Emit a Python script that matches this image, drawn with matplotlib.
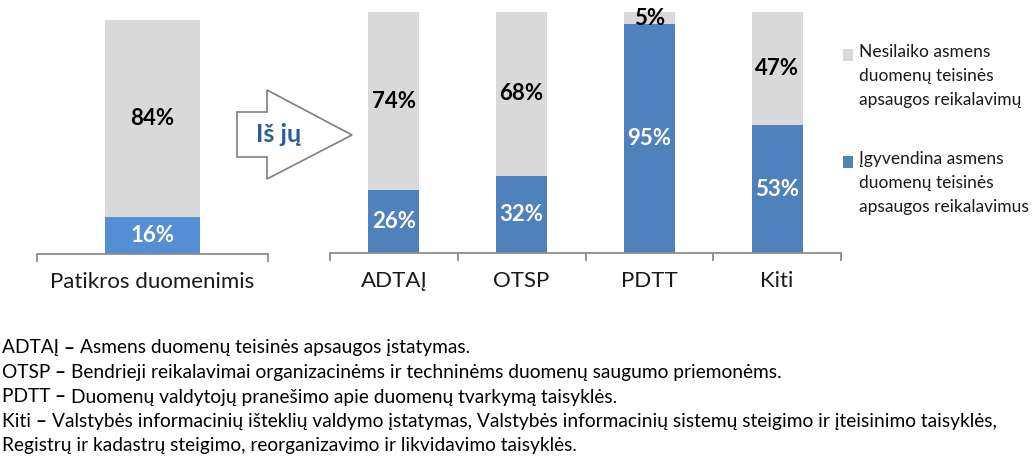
import matplotlib.pyplot as plt
from matplotlib.patches import Polygon, Rectangle

plt.rcParams['font.family'] = ['Lato', 'DejaVu Sans']

# data
total_cat = ['Patikros duomenimis']
total_ok = [16]
total_bad = [84]

cats = ['ADTAĮ', 'OTSP', 'PDTT', 'Kiti']
ok = [26, 32, 95, 53]
bad = [74, 68, 5, 47]

legend_bad = 'Nesilaiko asmens\nduomenų teisinės\napsaugos reikalavimų'
legend_ok = 'Įgyvendina asmens\nduomenų teisinės\napsaugos reikalavimus'

note_keys = ['ADTAĮ', 'OTSP', 'PDTT', 'Kiti', '']
note_texts = [
    'Asmens duomenų teisinės apsaugos įstatymas.',
    'Bendrieji reikalavimai organizacinėms ir techninėms duomenų saugumo priemonėms.',
    'Duomenų valdytojų pranešimo apie duomenų tvarkymą taisyklės.',
    'Valstybės informacinių išteklių valdymo įstatymas, Valstybės informacinių sistemų steigimo ir įteisinimo taisyklės,',
    'Registrų ir kadastrų steigimo, reorganizavimo ir likvidavimo taisyklės.',
]

GRAY = '#D9D9D9'
BLUE_L = '#558ED5'
BLUE = '#4F81BD'
W, H = 1035, 468

fig = plt.figure(figsize=(10.35, 4.68), dpi=100)


def px_axes(x0, x1, ytop, ybot):
    return fig.add_axes([x0 / W, 1 - ybot / H, (x1 - x0) / W, (ybot - ytop) / H])


def style(ax, labels):
    n = len(labels)
    ax.set_xlim(-0.5, n - 0.5)
    ax.set_ylim(0, 100)
    for s in ['top', 'right', 'left']:
        ax.spines[s].set_visible(False)
    ax.spines['bottom'].set_color('#8C8C8C')
    ax.spines['bottom'].set_linewidth(1.3)
    ax.set_yticks([])
    ax.set_xticks([i - 0.5 for i in range(n + 1)])
    ax.set_xticklabels([])
    ax.tick_params(axis='x', which='major', length=6, width=1.3, color='#8C8C8C')
    ax.set_xticks(range(n), minor=True)
    ax.set_xticklabels(labels, minor=True, fontsize=16, color='#1a1a1a')
    ax.tick_params(axis='x', which='minor', length=0, pad=13)
    ax.patch.set_alpha(0)


def bars(ax, xs, lo, hi, blue, width):
    ax.bar(xs, lo, width=width, color=blue)
    ax.bar(xs, hi, bottom=lo, width=width, color=GRAY)
    for x, a, b in zip(xs, lo, hi):
        ax.text(x, a / 2, f'{a}%', ha='center', va='center', color='white',
                fontsize=16, fontweight='bold')
        ax.text(x, a + b / 2, f'{b}%', ha='center', va='center', color='black',
                fontsize=16, fontweight='bold')


ax1 = px_axes(37, 268, 20, 254)
bars(ax1, range(len(total_cat)), total_ok, total_bad, BLUE_L, 0.41)
style(ax1, total_cat)

ax2 = px_axes(330, 841, 12, 253)
bars(ax2, range(len(cats)), ok, bad, BLUE, 0.4)
style(ax2, cats)

# arrow "Iš jų"
arrow_px = [(237, 112), (267, 112), (267, 90), (352, 135), (267, 179), (267, 157), (237, 157)]
arrow = Polygon([(x / W, 1 - y / H) for x, y in arrow_px], closed=True,
                transform=fig.transFigure, facecolor='white', edgecolor='#7F7F7F', lw=1.2)
fig.patches.append(arrow)
fig.text(279 / W, 1 - 134 / H, 'Iš jų', ha='center', va='center', fontsize=18,
         fontweight='bold', color='#2E5B9A')

# legend
for (ytop, col, lab) in [(49, GRAY, legend_bad), (156, BLUE, legend_ok)]:
    fig.patches.append(Rectangle((843 / W, 1 - (ytop + 12) / H), 10 / W, 12 / H,
                                 transform=fig.transFigure, facecolor=col, edgecolor='none'))
    fig.text(859 / W, 1 - (ytop - 5) / H, lab, ha='left', va='top', fontsize=12.5,
             color='#1a1a1a', linespacing=1.6)

# footnotes, key + bold dash + text
r = fig.canvas.get_renderer()
fs = 13.8
for i, (k, t) in enumerate(zip(note_keys, note_texts)):
    y = 1 - (348 + i * 24.5) / H
    x = 2 / W
    if k:
        t1 = fig.text(x, y, k + ' ', ha='left', va='center', fontsize=fs, color='black')
        x = t1.get_window_extent(r).x1 / W
        t2 = fig.text(x, y, '– ', ha='left', va='center', fontsize=fs, fontweight='bold',
                      color='black')
        x = t2.get_window_extent(r).x1 / W
    fig.text(x, y, t, ha='left', va='center', fontsize=fs, color='black')

fig.savefig('out.png', dpi=100, facecolor='white')
